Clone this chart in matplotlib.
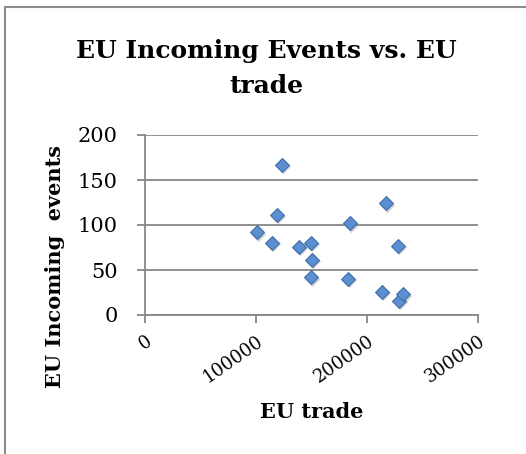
import matplotlib
matplotlib.use("Agg")
import matplotlib.pyplot as plt
from matplotlib.patches import Rectangle

# EU trade volume vs. number of incoming EU events
eu_trade = [100600, 114700, 118600, 123700, 138700, 149500, 150500, 149500,
            182600, 184400, 213200, 216800, 227900, 228800, 232700]
eu_events = [92, 80, 111, 167, 76, 80, 61, 42, 40, 102, 26, 124, 77, 16, 23]

x_ticks = [0, 100000, 200000, 300000]
y_ticks = [0, 50, 100, 150, 200]

serif = ["DejaVu Serif"]
W, H = 526, 454

fig = plt.figure(figsize=(W / 100, H / 100), dpi=100)
fig.patches.append(Rectangle((5 / W, -0.1), 1.2, (H - 7) / H + 0.1,
                             transform=fig.transFigure, fill=False,
                             edgecolor="#8c8c8c", linewidth=1.5))

ax = fig.add_axes([145 / W, 1 - 315 / H, 333 / W, 180 / H])
ax.set_xlim(0, 300000)
ax.set_ylim(0, 200)

ax.grid(axis="y", color="#878787", linewidth=1.3)
ax.set_axisbelow(True)
for s in ["top", "right"]:
    ax.spines[s].set_visible(False)
for s in ["left", "bottom"]:
    ax.spines[s].set_color("#878787")
    ax.spines[s].set_linewidth(1.3)

# soft drop shadow under each marker
ax.scatter([x + 900 for x in eu_trade], [y - 1.5 for y in eu_events], marker="D",
           s=60, color="#9a9a9a", alpha=0.45, linewidths=0, zorder=2)
ax.scatter(eu_trade, eu_events, marker="D", s=50, color="#5b8fd1",
           edgecolors="#3f6faa", linewidths=0.8, zorder=3)

ax.set_xticks(x_ticks)
ax.set_xticklabels([str(v) for v in x_ticks], rotation=35, ha="right",
                   rotation_mode="anchor", family=serif, fontsize=13)
ax.set_yticks(y_ticks)
ax.set_yticklabels([str(v) for v in y_ticks], family=serif, fontsize=15)
ax.tick_params(axis="both", color="#878787", width=1.3, length=6)
ax.tick_params(axis="x", pad=6)
ax.tick_params(axis="y", pad=13.5)

fig.text(312 / W, 1 - 412 / H, "EU trade", ha="center", va="center",
         family=serif, fontsize=15, fontweight="bold")
fig.text(55 / W, 1 - 267 / H, "EU Incoming  events", ha="center", va="center",
         rotation=90, family=serif, fontsize=15, fontweight="bold")

title_lines = ["EU Incoming Events vs. EU", "trade"]
title_baselines = [58, 93]
for line, base in zip(title_lines, title_baselines):
    fig.text(266 / W, 1 - base / H, line, ha="center", va="baseline",
             family=serif, fontsize=18, fontweight="bold")

fig.savefig("out.png", dpi=100)
